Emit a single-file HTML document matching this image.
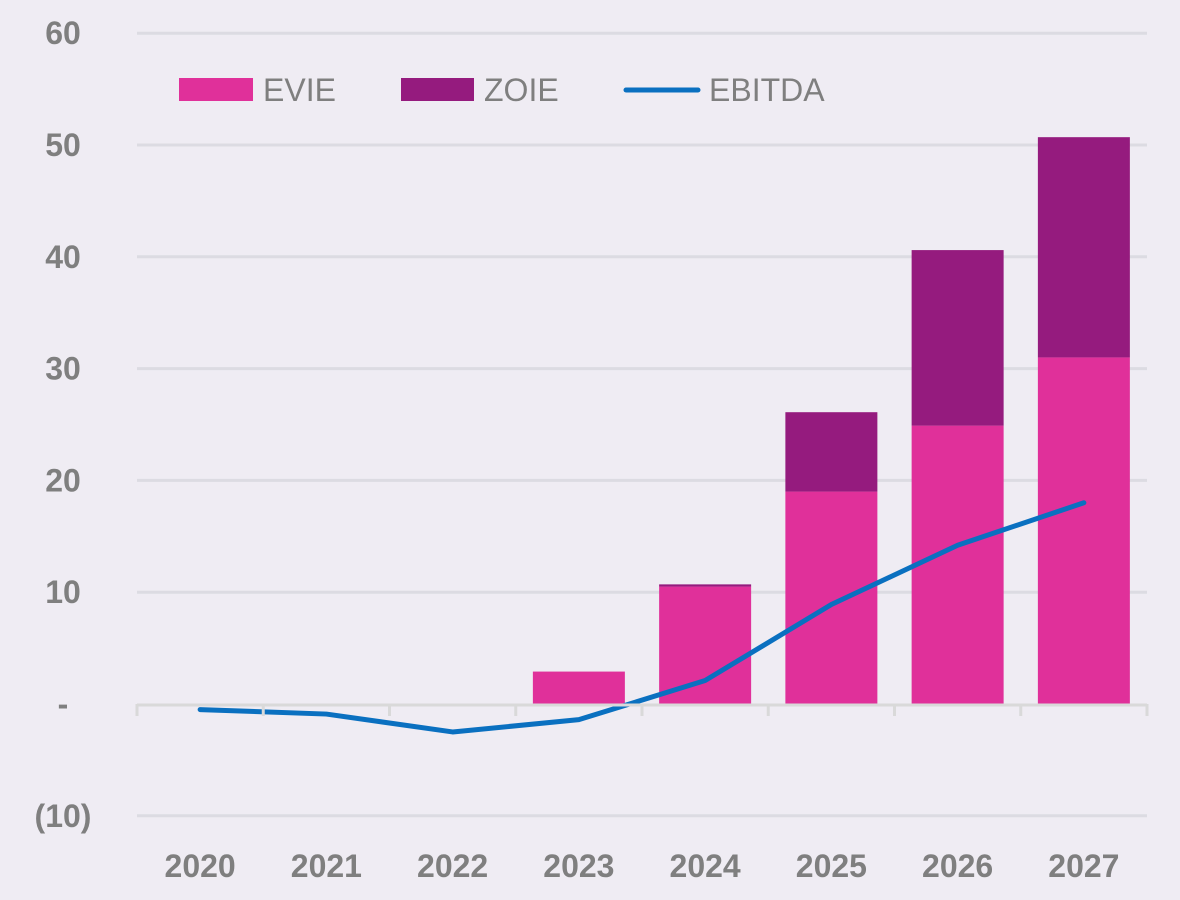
<!DOCTYPE html>
<html><head><meta charset="utf-8"><style>
html,body{margin:0;padding:0;background:#efecf3;}
svg{display:block;font-family:"Liberation Sans",sans-serif;}
</style></head><body>
<svg id="chart" width="1180" height="900">
<rect width="1180" height="900" fill="#efecf3"/>
<g id="grid"></g><g id="bars"></g><g id="line"></g><g id="axes"></g>
<g>
<rect x="179" y="78" width="74" height="23" fill="#e0309a"/>
<text x="263" y="101" font-size="32" fill="#7f7f7f">EVIE</text>
<rect x="401" y="78" width="73" height="23" fill="#951b7e"/>
<text x="484" y="101" font-size="32" fill="#7f7f7f">ZOIE</text>
<line x1="626" y1="90" x2="698" y2="90" stroke="#0a70c0" stroke-width="5" stroke-linecap="round"/>
<text x="709" y="101" font-size="32" fill="#7f7f7f">EBITDA</text>
</g>
</svg>
<script>
const categories=["2020","2021","2022","2023","2024","2025","2026","2027"];
const evie=[0,0,0,2.9,10.5,19.0,24.9,31.0];
const zoie=[0,0,0,0,0.2,7.1,15.7,19.7];
const ebitda=[-0.5,-0.9,-2.5,-1.4,2.1,8.9,14.2,18.0];
const yTicks=[60,50,40,30,20,10,0,-10];
const yTickLabels=["60","50","40","30","20","10","-","(10)"];
const NS="http://www.w3.org/2000/svg";
const x0=137,x1=1147,bw=(x1-x0)/categories.length;
function y(v){return 704-v*11.18;}
function xc(i){return x0+bw*(i+0.5);}
function mk(parent,tag,attrs){const e=document.createElementNS(NS,tag);for(const k in attrs)e.setAttribute(k,attrs[k]);document.getElementById(parent).appendChild(e);return e;}
yTicks.forEach((t,i)=>{
 if(t!==0){const g=mk('grid','line',{x1:x0,x2:x1,y1:y(t),y2:y(t),stroke:'#dcdbe2','stroke-width':3});
 
 }
 const tx=mk('axes','text',{x:63,y:y(t)+11,'font-size':32,'font-weight':'bold',fill:'#7f7f7f','text-anchor':'middle'});
 tx.textContent=yTickLabels[i];
 
 
});
categories.forEach((c,i)=>{
 const cx=xc(i),w=92;
 if(evie[i]>0){const r=mk('bars','rect',{x:cx-w/2,y:y(evie[i]),width:w,height:y(0)-y(evie[i]),fill:'#e0309a'});
 
 }
 if(zoie[i]>0){const top=evie[i]+zoie[i];const r=mk('bars','rect',{x:cx-w/2,y:y(top),width:w,height:y(evie[i])-y(top),fill:'#951b7e'});
 
 }
 const tx=mk('axes','text',{x:cx,y:877,'font-size':32,'font-weight':'bold',fill:'#7f7f7f','text-anchor':'middle'});
 tx.textContent=c;
 
 
});
const ax=mk('axes','line',{x1:x0,x2:x1,y1:y(0)+1,y2:y(0)+1,stroke:'#d9d9d9','stroke-width':3});


for(let i=0;i<=categories.length;i++){const t=mk('axes','line',{x1:x0+bw*i,x2:x0+bw*i,y1:y(0),y2:y(0)+12,stroke:'#d9d9d9','stroke-width':3});
 
 }
const pts=ebitda.map((v,i)=>xc(i)+','+y(v)).join(' ');
const pl=mk('line','polyline',{points:pts,fill:'none',stroke:'#0a70c0','stroke-width':5,'stroke-linejoin':'round','stroke-linecap':'round'});


</script>
</body></html>
